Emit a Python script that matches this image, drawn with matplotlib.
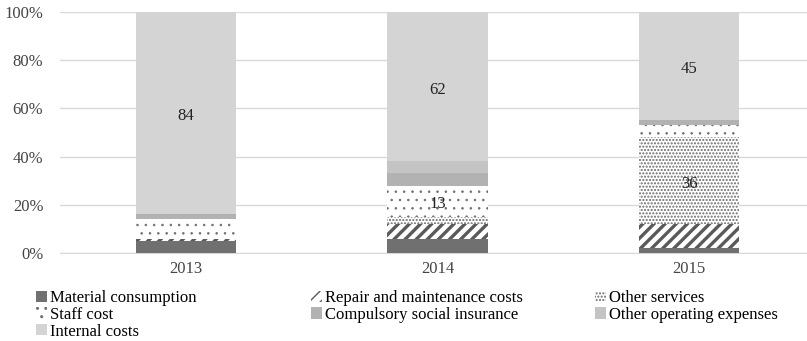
import matplotlib
matplotlib.use("Agg")
import matplotlib.pyplot as plt
from matplotlib.patches import Patch

plt.rcParams['font.family'] = ['Liberation Serif', 'DejaVu Serif']
plt.rcParams['hatch.linewidth'] = 1.0

years = ['2013', '2014', '2015']
material = [5, 6, 2]
repair = [1, 6, 10]
other_services = [0, 3, 36]
staff = [8, 13, 5]
social = [2, 5, 2]
other_operating = [0, 5, 0]
internal = [84, 62, 45]

series = [
    ('Material consumption', material, dict(color='#707070'), None),
    ('Repair and maintenance costs', repair, dict(facecolor='white', edgecolor='#5a5a5a', hatch='///'), 2.4),
    ('Other services', other_services, dict(facecolor='white', edgecolor='#6a6a6a', hatch='.....'), 1.0),
    ('Staff cost', staff, dict(facecolor='white', edgecolor='#707070', hatch='..'), 0.6),
    ('Compulsory social insurance', social, dict(color='#b2b2b2'), None),
    ('Other operating expenses', other_operating, dict(color='#c4c4c4'), None),
    ('Internal costs', internal, dict(color='#d4d4d4'), None),
]
# segments that carry a value label
labelled = {'Staff cost': [1], 'Other services': [2], 'Internal costs': [0, 1, 2]}


def set_hatch_lw(patch, lw):
    if lw is not None and hasattr(patch, 'set_hatch_linewidth'):
        patch.set_hatch_linewidth(lw)


fig = plt.figure(figsize=(8.07, 3.41), dpi=100)
ax = fig.add_axes([60 / 807, 88 / 341, 747 / 807, 241 / 341])

x = list(range(len(years)))
bottom = [0] * len(years)
handles = {}
for name, vals, style, hlw in series:
    bars = ax.bar(x, vals, 0.4, bottom=bottom, linewidth=0, zorder=3, **style)
    for b in bars:
        set_hatch_lw(b, hlw)
    h = Patch(linewidth=0, **style)
    set_hatch_lw(h, hlw)
    handles[name] = h
    for i in labelled.get(name, []):
        ax.text(x[i], bottom[i] + vals[i] / 2 - 1.2, str(vals[i]), ha='center', va='center',
                fontsize=12, color='#222222', zorder=5)
    bottom = [b + v for b, v in zip(bottom, vals)]

ax.set_xlim(-0.501, 2.469)
ax.set_ylim(0, 100)
ax.set_yticks(range(0, 101, 20))
ax.set_yticklabels([f'{v}%' for v in range(0, 101, 20)])
ax.set_xticks(x)
ax.set_xticklabels(years)
ax.yaxis.grid(True, color='#d9d9d9', linewidth=1, zorder=0)
for s in ['top', 'right', 'left']:
    ax.spines[s].set_visible(False)
ax.spines['bottom'].set_color('#d9d9d9')
ax.tick_params(axis='both', length=0, labelsize=12, colors='#444444')
ax.tick_params(axis='y', pad=12)
ax.tick_params(axis='x', pad=6)

# legend laid out as three fixed-width columns
columns = [
    (36, ['Material consumption', 'Staff cost', 'Internal costs']),
    (311, ['Repair and maintenance costs', 'Compulsory social insurance']),
    (595, ['Other services', 'Other operating expenses']),
]
for xpos, names in columns:
    fig.legend([handles[n] for n in names], names, loc='upper left',
               bbox_to_anchor=(xpos / 807, 1 - 290 / 341), bbox_transform=fig.transFigure,
               frameon=False, fontsize=12, handlelength=0.65, handleheight=0.65,
               handletextpad=0.2, labelspacing=0.05, borderaxespad=0, borderpad=0)

fig.savefig('out.png', dpi=100)
